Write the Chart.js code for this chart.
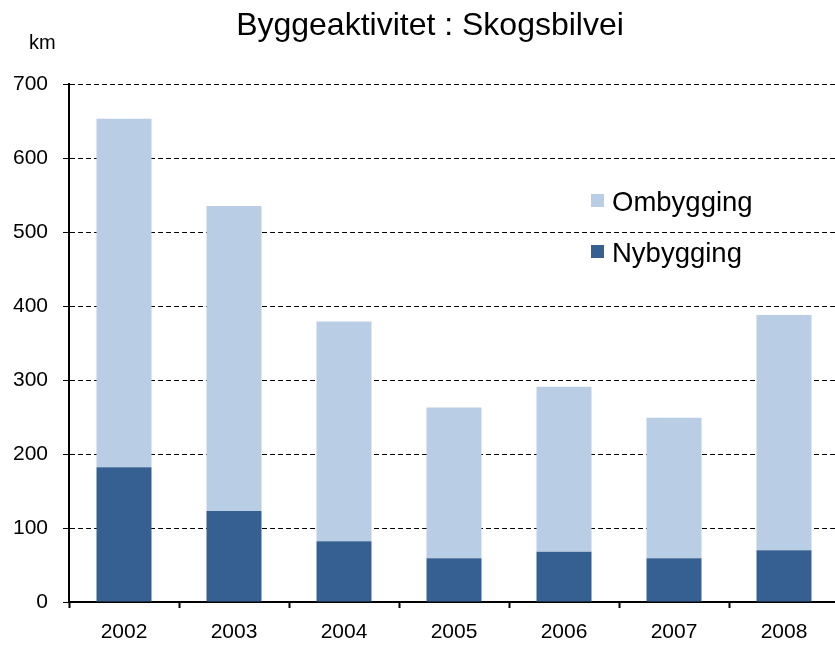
<!DOCTYPE html>
<html>
<head>
<meta charset="utf-8">
<script src="https://cdn.jsdelivr.net/npm/chart.js@4.4.1/dist/chart.umd.min.js"></script>
<style>
  html, body { margin: 0; padding: 0; background: #fff; overflow: hidden; }
  #wrap { position: relative; width: 845px; height: 648px; }
</style>
</head>
<body>
<div id="wrap"><canvas id="c"></canvas></div>
<script>
const years = ['2002', '2003', '2004', '2005', '2006', '2007', '2008'];
const nybygging = [182, 123, 82, 59, 68, 59, 70];
const ombygging = [471, 412, 297, 204, 223, 190, 318];
const yTicks = [0, 100, 200, 300, 400, 500, 600, 700];
const titleText = 'Byggeaktivitet : Skogsbilvei';
const unitText = 'km';

const FONT = "'Liberation Sans', Arial, sans-serif";
const LIGHT = '#B9CDE5';
const DARK = '#376092';

const overlay = {
  id: 'overlay',
  afterDraw(chart) {
    const ctx = chart.ctx;
    ctx.save();
    ctx.fillStyle = '#000';
    ctx.textBaseline = 'alphabetic';
    ctx.font = '32px ' + FONT;
    ctx.textAlign = 'center';
    ctx.fillText(titleText, 430, 35);
    ctx.font = '20px ' + FONT;
    ctx.textAlign = 'left';
    ctx.fillText(unitText, 29, 49);
    // legend (top to bottom: Ombygging, Nybygging)
    const items = [chart.data.datasets[1], chart.data.datasets[0]];
    const rows = [211, 262];
    ctx.font = '27.5px ' + FONT;
    items.forEach((ds, i) => {
      ctx.fillStyle = ds.backgroundColor;
      ctx.fillRect(591, rows[i] - 17, 13, 13);
      ctx.fillStyle = '#000';
      ctx.fillText(ds.label, 612, rows[i]);
    });
    ctx.restore();
  }
};

new Chart(document.getElementById('c'), {
  type: 'bar',
  data: {
    labels: years,
    datasets: [
      { label: 'Nybygging', data: nybygging, backgroundColor: DARK, borderWidth: 0 },
      { label: 'Ombygging', data: ombygging, backgroundColor: LIGHT, borderWidth: 0 }
    ]
  },
  options: {
    responsive: true,
    maintainAspectRatio: false,
    animation: false,
    layout: { padding: { top: 84, right: 6, bottom: 0, left: 0 } },
    plugins: { legend: { display: false }, title: { display: false }, tooltip: { enabled: false } },
    datasets: { bar: { barPercentage: 0.5, categoryPercentage: 1.0 } },
    scales: {
      x: {
        stacked: true,
        offset: true,
        grid: { display: true, drawOnChartArea: false, drawTicks: true, tickLength: 6, color: '#000', tickColor: '#000', tickWidth: 2, offset: true },
        border: { display: true, color: '#000', width: 2 },
        ticks: { color: '#000', font: { family: FONT, size: 21 }, padding: 12, maxRotation: 0 },
        afterFit(scale) { scale.height = 46; }
      },
      y: {
        stacked: true,
        min: 0,
        max: 700,
        afterBuildTicks(scale) { scale.ticks = yTicks.map(v => ({ value: v })); },
        grid: { color: '#000', lineWidth: 1, tickLength: 6, tickColor: '#000', tickWidth: 1, drawTicks: true },
        border: { display: true, color: '#000', width: 2, dash: [5, 3] },
        ticks: { color: '#000', font: { family: FONT, size: 21 }, padding: 15, stepSize: 100 },
        afterFit(scale) { scale.width = 69; }
      }
    }
  },
  plugins: [overlay]
});
</script>
</body>
</html>
